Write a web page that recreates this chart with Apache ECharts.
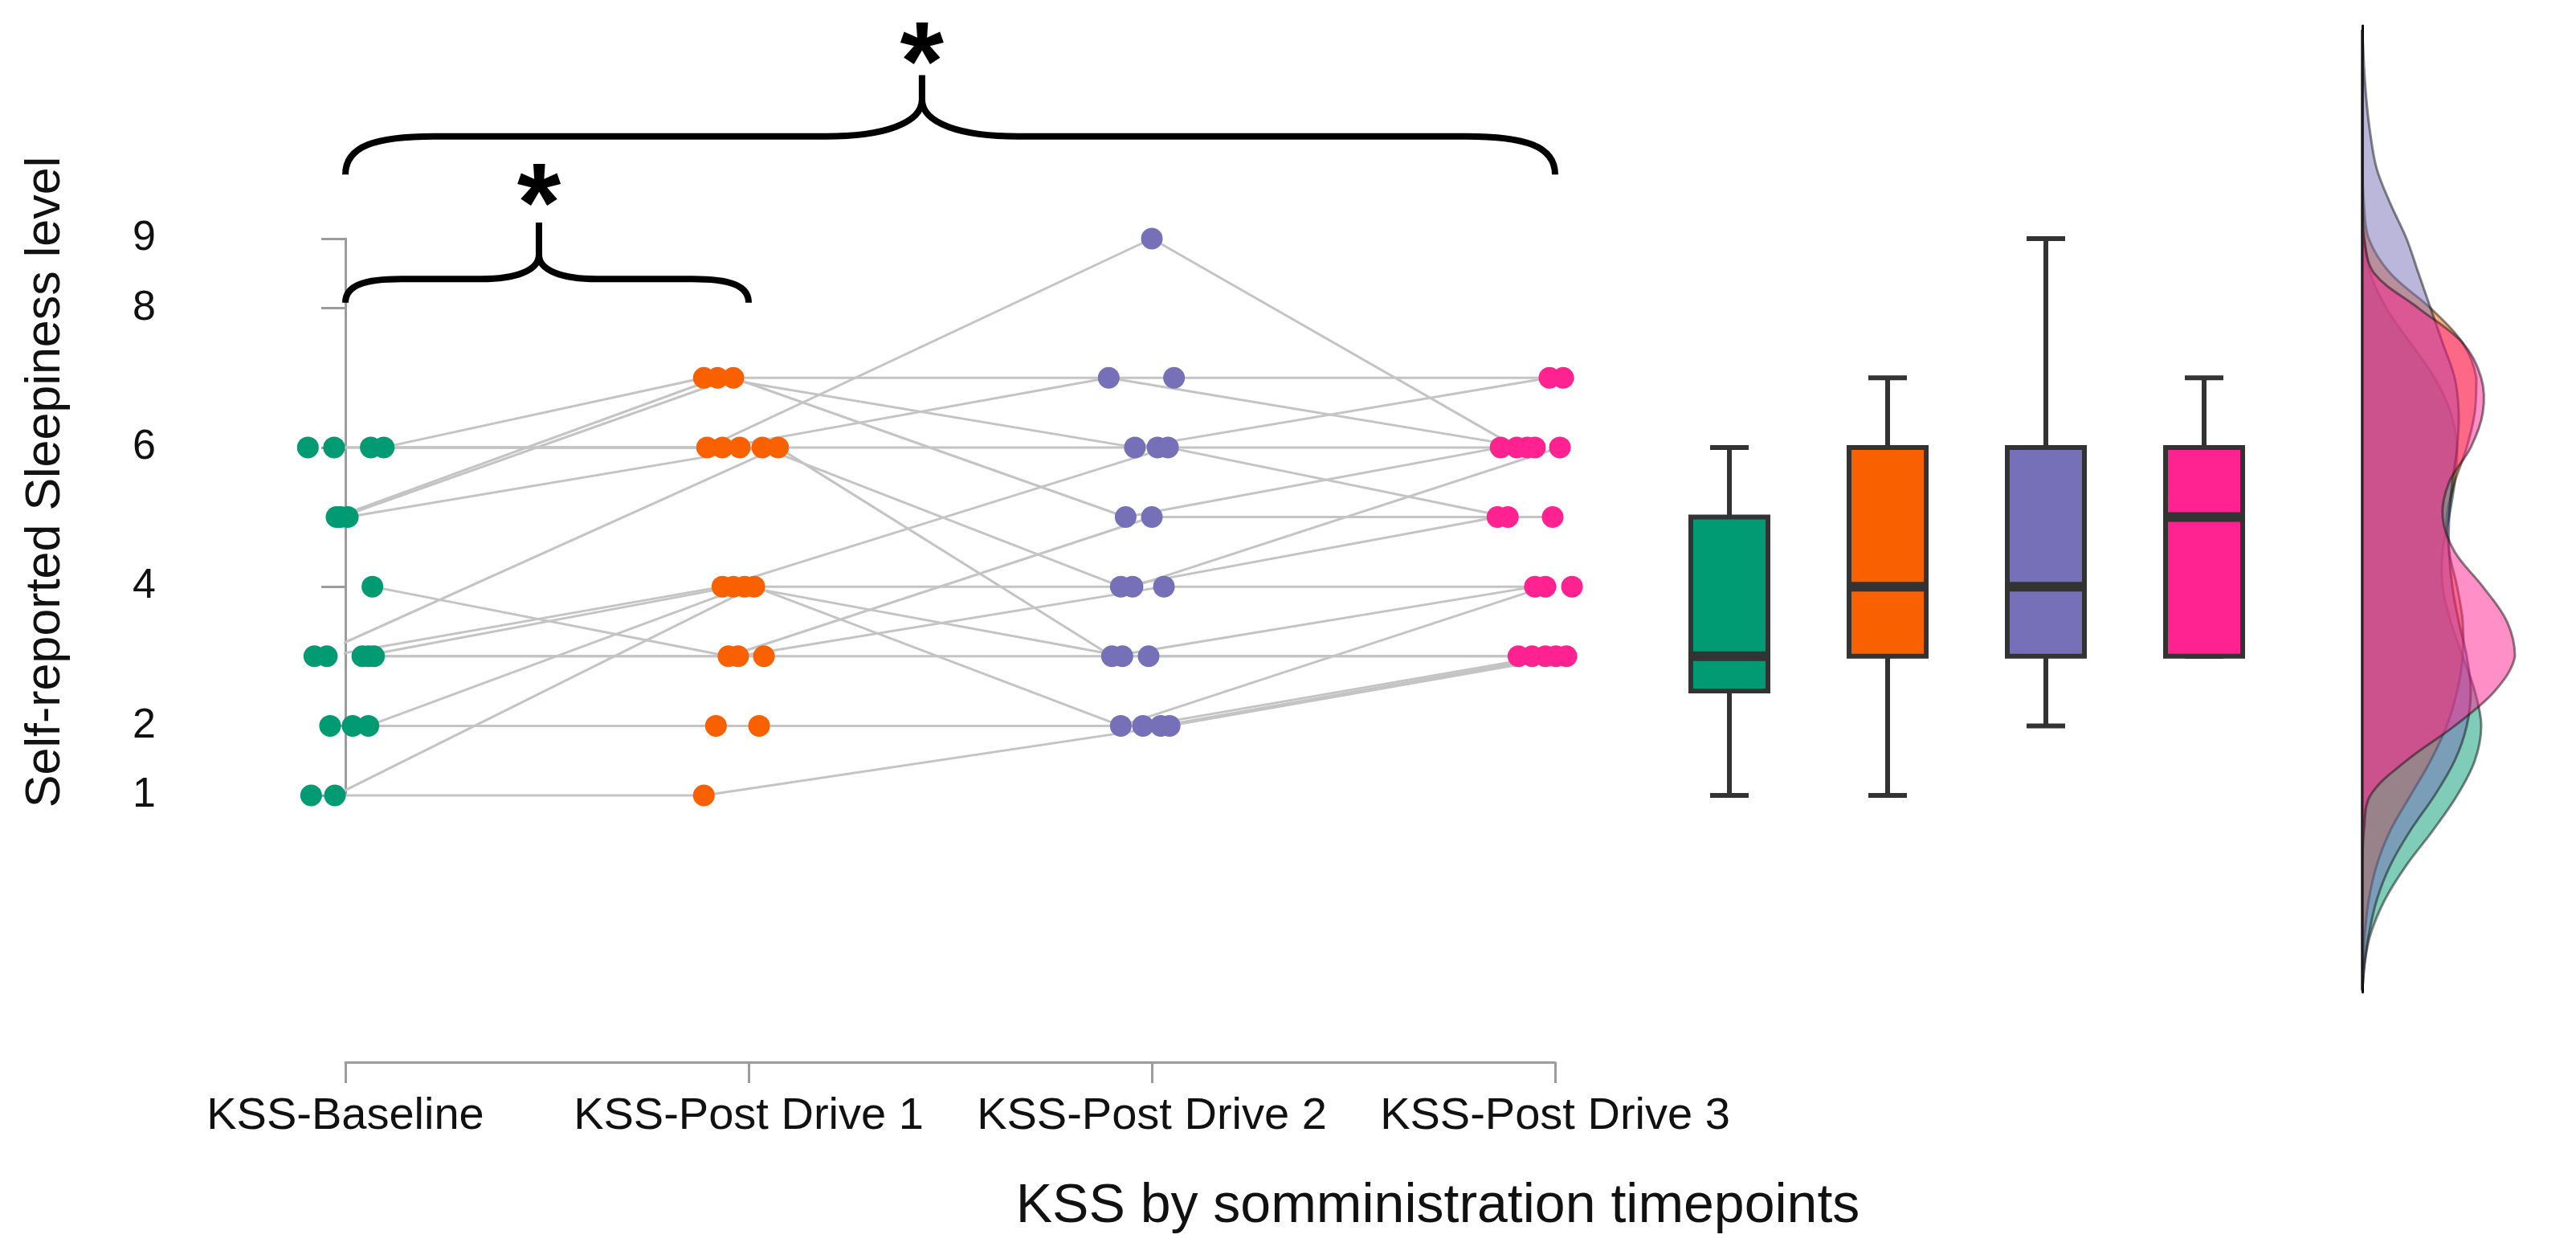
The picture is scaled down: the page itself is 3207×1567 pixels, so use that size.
<!DOCTYPE html>
<html>
<head>
<meta charset="utf-8">
<script src="https://cdn.jsdelivr.net/npm/echarts@6.0.0/dist/echarts.min.js"></script>
<style>
html,body{margin:0;padding:0;background:#ffffff;}
#chart{width:3207px;height:1567px;}
</style>
</head>
<body>
<div id="chart"></div>
<script>
// ---------------- data ----------------
const categories = ['KSS-Baseline', 'KSS-Post Drive 1', 'KSS-Post Drive 2', 'KSS-Post Drive 3'];
const groupColors = ['#009B72', '#F96000', '#7570B8', '#FF2290'];
const yTickValues = [1, 2, 4, 6, 8, 9];
const yAxisTitle = 'Self-reported Sleepiness level';
const xAxisTitle = 'KSS by somministration timepoints';
const sigMark = '*';

// one entry per participant (18)
const kssBaseline = [6, 5, 5, 6, 6, 6, 5, 3, 3, 3, 2, 1, 4, 3, 3, 2, 2, 1];
const kssDrive1   = [7, 7, 7, 6, 6, 6, 6, 6, 4, 4, 4, 4, 3, 3, 3, 2, 2, 1];
const kssDrive2   = [7, 6, 5, 9, 7, 6, 4, 3, 6, 4, 3, 2, 5, 4, 3, 2, 2, 2];
const kssDrive3   = [7, 7, 6, 6, 6, 6, 5, 4, 5, 6, 3, 4, 5, 4, 3, 3, 3, 3];

// horizontal jitter of each dot (fraction of the category spacing)
const jitterBaseline = [0.095, -0.022, -0.012, -0.093, -0.028, 0.063, 0.006, -0.077, -0.046, 0.042, 0.057, -0.026, 0.067, 0.057, 0.071, -0.038, 0.018, -0.085];
const jitterDrive1   = [-0.111, -0.077, -0.038, -0.103, -0.065, -0.022, 0.034, 0.073, -0.065, -0.038, -0.010, 0.014, -0.050, -0.026, 0.038, -0.081, 0.026, -0.111];
const jitterDrive2   = [0.055, -0.042, -0.065, 0.000, -0.107, 0.014, -0.077, -0.099, 0.040, -0.048, -0.073, -0.077, 0.000, 0.030, -0.008, -0.022, 0.022, 0.044];
const jitterDrive3   = [0.020, -0.014, -0.135, -0.095, -0.069, -0.050, -0.143, -0.050, -0.117, 0.012, -0.091, -0.024, -0.006, 0.042, -0.057, -0.024, 0.002, 0.028];

// box plot statistics per timepoint
const boxMin    = [1, 1, 2, 3];
const boxQ1     = [2.5, 3, 3, 3];
const boxMedian = [3, 4, 4, 5];
const boxQ3     = [5, 6, 6, 6];
const boxMax    = [6, 7, 9, 7];

// half-violin (density) outlines: width at each level
const densityLevels   = [-1.8, -1.4, -1, -0.5, 0, 0.5, 1, 1.5, 2, 2.5, 3, 3.5, 4, 4.5, 5, 5.5, 6, 6.5, 7, 7.5, 8, 8.5, 9, 9.5, 10, 10.5, 11, 11.5, 12];
const densityBaseline = [0, 3, 10, 28, 55, 88, 118, 140, 148, 140, 125, 110, 100, 100, 108, 115, 118, 110, 90, 60, 30, 10, 3, 0, 0, 0, 0, 0, 0];
const densityDrive1   = [0, 1, 3, 8, 18, 35, 60, 85, 105, 118, 125, 125, 118, 108, 105, 115, 130, 140, 142, 125, 85, 35, 8, 2, 0, 0, 0, 0, 0];
const densityDrive2   = [0, 3, 8, 18, 35, 60, 90, 115, 130, 135, 130, 120, 112, 108, 108, 112, 118, 120, 115, 100, 85, 70, 55, 35, 18, 10, 5, 2, 0];
const densityDrive3   = [0, 0, 0, 0, 0, 2, 10, 55, 115, 165, 190, 180, 150, 115, 100, 108, 135, 150, 148, 125, 70, 15, 2, 0, 0, 0, 0, 0, 0];

// ---------------- layout ----------------
const FONT = "'Liberation Sans', Arial, Helvetica, sans-serif";
const W = 3207, H = 1567;
const Y9 = 297, Y1 = 990;
const UNIT = (Y1 - Y9) / 8;
const XFIRST = 430, XLAST = 1936;
const BOX_FIRST = 2153, BOX_STEP = 197;
const DENS_X = 2941, DENS_TOP = 32, DENS_BOTTOM = 1235;

const values = [kssBaseline, kssDrive1, kssDrive2, kssDrive3];
const jitters = [jitterBaseline, jitterDrive1, jitterDrive2, jitterDrive3];
const densities = [densityBaseline, densityDrive1, densityDrive2, densityDrive3];

const chart = echarts.init(document.getElementById('chart'), null, {width: W, height: H, renderer: 'canvas'});

const series = [];
// participant lines
for (let s = 0; s < kssBaseline.length; s++) {
  series.push({
    type: 'line', xAxisIndex: 1, yAxisIndex: 0, silent: true, z: 1, clip: false,
    symbol: 'none', lineStyle: {color: '#C4C4C4', width: 3},
    data: values.map((arr, t) => [t + jitters[t][s], arr[s]])
  });
}
// dots
values.forEach((arr, t) => {
  series.push({
    type: 'scatter', xAxisIndex: 1, yAxisIndex: 0, z: 3, clip: false,
    symbolSize: 27, itemStyle: {color: groupColors[t], opacity: 1},
    data: arr.map((v, s) => [t + jitters[t][s], v])
  });
});
// significance braces
series.push({
  type: 'custom', xAxisIndex: 1, yAxisIndex: 0, z: 5, silent: true, clip: false,
  data: [[0, 1, 0.48, 8.08, 8.42, 8.77, 9.23, 9.77, 70, 72], [0, 3, 1.43, 9.92, 10.47, 11.0, 11.35, 11.8, 110, 120]],
  renderItem: function (params, api) {
    const x0 = api.coord([api.value(0), 9])[0];
    const x1 = api.coord([api.value(1), 9])[0];
    const xc = api.coord([api.value(2), 9])[0];
    const yEnd = api.coord([0, api.value(3)])[1];
    const yH = api.coord([0, api.value(4)])[1];
    const yCusp = api.coord([0, api.value(5)])[1];
    const yTop = api.coord([0, api.value(6)])[1];
    const yStar = api.coord([0, api.value(7)])[1];
    const r = api.value(8), rc = api.value(9);
    const d = `M${x0},${yEnd} C${x0},${yH + (yEnd - yH) * 0.25} ${x0 + r * 0.35},${yH} ${x0 + r},${yH} ` +
      `L${xc - rc},${yH} C${xc - rc * 0.4},${yH} ${xc},${yH - (yH - yCusp) * 0.35} ${xc},${yCusp} L${xc},${yTop} ` +
      `M${xc},${yCusp} C${xc},${yH - (yH - yCusp) * 0.35} ${xc + rc * 0.4},${yH} ${xc + rc},${yH} ` +
      `L${x1 - r},${yH} C${x1 - r * 0.35},${yH} ${x1},${yH + (yEnd - yH) * 0.25} ${x1},${yEnd}`;
    return {
      type: 'group',
      children: [
        {type: 'path', shape: {pathData: d}, style: {stroke: '#000', lineWidth: 8, fill: null}},
        {type: 'text', style: {text: sigMark, x: xc, y: yStar + 31, align: 'center', verticalAlign: 'middle',
          font: 'bold 140px ' + FONT, fill: '#000'}}
      ]
    };
  }
});
// box plots
series.push({
  type: 'custom', xAxisIndex: 2, yAxisIndex: 1, z: 4, silent: true,
  data: categories.map((c, i) => [i, boxMin[i], boxQ1[i], boxMedian[i], boxQ3[i], boxMax[i]]),
  renderItem: function (params, api) {
    const i = api.value(0);
    const pMin = api.coord([i, api.value(1)]);
    const pQ1 = api.coord([i, api.value(2)]);
    const pMed = api.coord([i, api.value(3)]);
    const pQ3 = api.coord([i, api.value(4)]);
    const pMax = api.coord([i, api.value(5)]);
    const x = pMed[0];
    const bw = 96, cw = 48;
    const stroke = '#333333';
    return {
      type: 'group',
      children: [
        {type: 'line', shape: {x1: x, y1: pMin[1], x2: x, y2: pQ1[1]}, style: {stroke, lineWidth: 6}},
        {type: 'line', shape: {x1: x, y1: pQ3[1], x2: x, y2: pMax[1]}, style: {stroke, lineWidth: 6}},
        {type: 'line', shape: {x1: x - cw / 2, y1: pMin[1], x2: x + cw / 2, y2: pMin[1]}, style: {stroke, lineWidth: 6}},
        {type: 'line', shape: {x1: x - cw / 2, y1: pMax[1], x2: x + cw / 2, y2: pMax[1]}, style: {stroke, lineWidth: 6}},
        {type: 'rect', shape: {x: x - bw / 2, y: pQ3[1], width: bw, height: pQ1[1] - pQ3[1]},
          style: {fill: groupColors[i], stroke, lineWidth: 6}},
        {type: 'line', shape: {x1: x - bw / 2, y1: pMed[1], x2: x + bw / 2, y2: pMed[1]}, style: {stroke, lineWidth: 12}}
      ]
    };
  }
});
// half-violin densities
series.push({
  type: 'custom', xAxisIndex: 3, yAxisIndex: 2, z: 2, silent: true,
  data: densities.map((d, i) => [i]),
  renderItem: function (params, api) {
    const g = api.value(0);
    const dens = densities[g];
    const pts = [api.coord([0, densityLevels[0]])];
    densityLevels.forEach((lv, k) => pts.push(api.coord([dens[k], lv])));
    pts.push(api.coord([0, densityLevels[densityLevels.length - 1]]));
    let minX = Infinity, minY = Infinity, maxX = -Infinity, maxY = -Infinity;
    pts.forEach(p => { minX = Math.min(minX, p[0]); maxX = Math.max(maxX, p[0]); minY = Math.min(minY, p[1]); maxY = Math.max(maxY, p[1]); });
    return {
      type: 'polygon',
      shape: {points: pts, smooth: 0.35, smoothConstraint: [[minX, minY], [maxX, maxY]]},
      style: {fill: groupColors[g], opacity: 0.5, stroke: '#111', lineWidth: 3}
    };
  }
});

const option = {
  animation: false,
  backgroundColor: '#ffffff',
  grid: [
    {left: XFIRST, right: W - XLAST, top: Y9, bottom: H - Y1},
    {left: BOX_FIRST - BOX_STEP / 2, width: BOX_STEP * 4, top: Y9, bottom: H - Y1},
    {left: DENS_X, width: 200, top: DENS_TOP, bottom: H - DENS_BOTTOM}
  ],
  xAxis: [
    {type: 'category', gridIndex: 0, data: categories, boundaryGap: false, position: 'bottom', offset: 332,
      axisLine: {lineStyle: {color: '#9C9C9C', width: 3}},
      axisTick: {length: 26, lineStyle: {color: '#9C9C9C', width: 3}},
      axisLabel: {color: '#111', fontSize: 56, fontFamily: FONT, margin: 40, interval: 0},
      splitLine: {show: false}},
    {type: 'value', gridIndex: 0, min: 0, max: 3, show: false},
    {type: 'category', gridIndex: 1, data: categories, show: false},
    {type: 'value', gridIndex: 2, min: 0, max: 200, show: false}
  ],
  yAxis: [
    {type: 'value', gridIndex: 0, min: 1, max: 9, interval: 1, offset: XFIRST - 242,
      axisLine: {show: true, lineStyle: {color: '#9C9C9C', width: 3}},
      axisTick: {show: true, length: 30, customValues: yTickValues, lineStyle: {color: '#9C9C9C', width: 3}},
      axisLabel: {customValues: yTickValues, color: '#111', fontSize: 52, fontFamily: FONT, margin: 48},
      splitLine: {show: false}},
    {type: 'value', gridIndex: 1, min: 1, max: 9, show: false},
    {type: 'value', gridIndex: 2, min: 1 - (DENS_BOTTOM - Y1) / UNIT, max: 9 + (Y9 - DENS_TOP) / UNIT,
      axisLine: {show: true, onZero: false, lineStyle: {color: '#000', width: 3}},
      axisTick: {show: false}, axisLabel: {show: false}, splitLine: {show: false}}
  ],
  graphic: [
    {type: 'text', x: 57, y: 600, rotation: Math.PI / 2,
      style: {text: yAxisTitle, font: '61px ' + FONT, fill: '#111', align: 'center', verticalAlign: 'middle'}, silent: true},
    {type: 'text', x: 1790, y: 1502,
      style: {text: xAxisTitle, font: '68px ' + FONT, fill: '#111', align: 'center', verticalAlign: 'middle'}, silent: true}
  ],
  series: series
};
chart.setOption(option);
</script>
</body>
</html>
